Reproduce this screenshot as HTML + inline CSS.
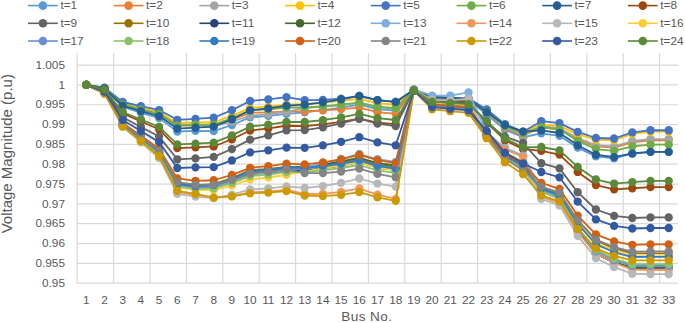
<!DOCTYPE html><html><head><meta charset="utf-8"><title>chart</title><style>html,body{margin:0;padding:0;background:#fff}svg{display:block}text{font-family:"Liberation Sans", sans-serif;fill:#595959}</style></head><body>
<svg width="685" height="323" viewBox="0 0 685 323">
<rect width="685" height="323" fill="#fff"/>
<path d="M77.2 283.20H678.0M77.2 263.37H678.0M77.2 243.54H678.0M77.2 223.71H678.0M77.2 203.88H678.0M77.2 184.05H678.0M77.2 164.22H678.0M77.2 144.39H678.0M77.2 124.56H678.0M77.2 104.73H678.0M77.2 84.90H678.0M77.2 65.07H678.0M77.20 53V283.20M113.60 53V283.20M150.00 53V283.20M186.40 53V283.20M222.80 53V283.20M259.20 53V283.20M295.60 53V283.20M332.00 53V283.20M368.40 53V283.20M404.80 53V283.20M441.20 53V283.20M477.60 53V283.20M514.00 53V283.20M550.40 53V283.20M586.80 53V283.20M623.20 53V283.20M659.60 53V283.20" stroke="#D9D9D9" stroke-width="1.2" fill="none"/>
<text x="65" y="286.90" font-size="11.8" text-anchor="end">0.95</text>
<text x="65" y="267.07" font-size="11.8" text-anchor="end">0.955</text>
<text x="65" y="247.24" font-size="11.8" text-anchor="end">0.96</text>
<text x="65" y="227.41" font-size="11.8" text-anchor="end">0.965</text>
<text x="65" y="207.58" font-size="11.8" text-anchor="end">0.97</text>
<text x="65" y="187.75" font-size="11.8" text-anchor="end">0.975</text>
<text x="65" y="167.92" font-size="11.8" text-anchor="end">0.98</text>
<text x="65" y="148.09" font-size="11.8" text-anchor="end">0.985</text>
<text x="65" y="128.26" font-size="11.8" text-anchor="end">0.99</text>
<text x="65" y="108.43" font-size="11.8" text-anchor="end">0.995</text>
<text x="65" y="88.60" font-size="11.8" text-anchor="end">1</text>
<text x="65" y="68.77" font-size="11.8" text-anchor="end">1.005</text>
<text x="86.30" y="303.9" font-size="11.8" text-anchor="middle">1</text>
<text x="104.50" y="303.9" font-size="11.8" text-anchor="middle">2</text>
<text x="122.70" y="303.9" font-size="11.8" text-anchor="middle">3</text>
<text x="140.90" y="303.9" font-size="11.8" text-anchor="middle">4</text>
<text x="159.10" y="303.9" font-size="11.8" text-anchor="middle">5</text>
<text x="177.30" y="303.9" font-size="11.8" text-anchor="middle">6</text>
<text x="195.50" y="303.9" font-size="11.8" text-anchor="middle">7</text>
<text x="213.70" y="303.9" font-size="11.8" text-anchor="middle">8</text>
<text x="231.90" y="303.9" font-size="11.8" text-anchor="middle">9</text>
<text x="250.10" y="303.9" font-size="11.8" text-anchor="middle">10</text>
<text x="268.30" y="303.9" font-size="11.8" text-anchor="middle">11</text>
<text x="286.50" y="303.9" font-size="11.8" text-anchor="middle">12</text>
<text x="304.70" y="303.9" font-size="11.8" text-anchor="middle">13</text>
<text x="322.90" y="303.9" font-size="11.8" text-anchor="middle">14</text>
<text x="341.10" y="303.9" font-size="11.8" text-anchor="middle">15</text>
<text x="359.30" y="303.9" font-size="11.8" text-anchor="middle">16</text>
<text x="377.50" y="303.9" font-size="11.8" text-anchor="middle">17</text>
<text x="395.70" y="303.9" font-size="11.8" text-anchor="middle">18</text>
<text x="413.90" y="303.9" font-size="11.8" text-anchor="middle">19</text>
<text x="432.10" y="303.9" font-size="11.8" text-anchor="middle">20</text>
<text x="450.30" y="303.9" font-size="11.8" text-anchor="middle">21</text>
<text x="468.50" y="303.9" font-size="11.8" text-anchor="middle">22</text>
<text x="486.70" y="303.9" font-size="11.8" text-anchor="middle">23</text>
<text x="504.90" y="303.9" font-size="11.8" text-anchor="middle">24</text>
<text x="523.10" y="303.9" font-size="11.8" text-anchor="middle">25</text>
<text x="541.30" y="303.9" font-size="11.8" text-anchor="middle">26</text>
<text x="559.50" y="303.9" font-size="11.8" text-anchor="middle">27</text>
<text x="577.70" y="303.9" font-size="11.8" text-anchor="middle">28</text>
<text x="595.90" y="303.9" font-size="11.8" text-anchor="middle">29</text>
<text x="614.10" y="303.9" font-size="11.8" text-anchor="middle">30</text>
<text x="632.30" y="303.9" font-size="11.8" text-anchor="middle">31</text>
<text x="650.50" y="303.9" font-size="11.8" text-anchor="middle">32</text>
<text x="668.70" y="303.9" font-size="11.8" text-anchor="middle">33</text>
<text x="341.3" y="320.8" font-size="13.6" letter-spacing="0.4">Bus No.</text>
<text transform="translate(12.4,153.7) rotate(-90)" font-size="15" text-anchor="middle">Voltage Magnitude (p.u)</text>
<g fill="#5B9BD5" stroke="#5B9BD5"><path d="M86.30 84.90L104.50 88.63L122.70 106.97L140.90 112.71L159.10 118.10L177.30 131.50L195.50 130.92L213.70 131.13L231.90 124.99L250.10 117.30L268.30 115.91L286.50 113.85L304.70 112.33L322.90 110.12L341.10 107.59L359.30 104.73L377.50 109.16L395.70 110.68L413.90 89.92L432.10 98.01L450.30 99.07L468.50 99.97L486.70 114.54L504.90 129.68L523.10 137.25L541.30 133.37L559.50 135.85L577.70 147.62L595.90 156.38L614.10 158.27L632.30 153.73L650.50 151.93L668.70 151.93" fill="none" stroke-width="1.8" stroke-linejoin="round" stroke-linecap="round"/>
<circle cx="86.30" cy="84.90" r="4.15" stroke="none"/><circle cx="104.50" cy="88.63" r="4.15" stroke="none"/><circle cx="122.70" cy="106.97" r="4.15" stroke="none"/><circle cx="140.90" cy="112.71" r="4.15" stroke="none"/><circle cx="159.10" cy="118.10" r="4.15" stroke="none"/><circle cx="177.30" cy="131.50" r="4.15" stroke="none"/><circle cx="195.50" cy="130.92" r="4.15" stroke="none"/><circle cx="213.70" cy="131.13" r="4.15" stroke="none"/><circle cx="231.90" cy="124.99" r="4.15" stroke="none"/><circle cx="250.10" cy="117.30" r="4.15" stroke="none"/><circle cx="268.30" cy="115.91" r="4.15" stroke="none"/><circle cx="286.50" cy="113.85" r="4.15" stroke="none"/><circle cx="304.70" cy="112.33" r="4.15" stroke="none"/><circle cx="322.90" cy="110.12" r="4.15" stroke="none"/><circle cx="341.10" cy="107.59" r="4.15" stroke="none"/><circle cx="359.30" cy="104.73" r="4.15" stroke="none"/><circle cx="377.50" cy="109.16" r="4.15" stroke="none"/><circle cx="395.70" cy="110.68" r="4.15" stroke="none"/><circle cx="413.90" cy="89.92" r="4.15" stroke="none"/><circle cx="432.10" cy="98.01" r="4.15" stroke="none"/><circle cx="450.30" cy="99.07" r="4.15" stroke="none"/><circle cx="468.50" cy="99.97" r="4.15" stroke="none"/><circle cx="486.70" cy="114.54" r="4.15" stroke="none"/><circle cx="504.90" cy="129.68" r="4.15" stroke="none"/><circle cx="523.10" cy="137.25" r="4.15" stroke="none"/><circle cx="541.30" cy="133.37" r="4.15" stroke="none"/><circle cx="559.50" cy="135.85" r="4.15" stroke="none"/><circle cx="577.70" cy="147.62" r="4.15" stroke="none"/><circle cx="595.90" cy="156.38" r="4.15" stroke="none"/><circle cx="614.10" cy="158.27" r="4.15" stroke="none"/><circle cx="632.30" cy="153.73" r="4.15" stroke="none"/><circle cx="650.50" cy="151.93" r="4.15" stroke="none"/><circle cx="668.70" cy="151.93" r="4.15" stroke="none"/>
</g>
<g fill="#ED7D31" stroke="#ED7D31"><path d="M86.30 84.90L104.50 88.17L122.70 104.57L140.90 109.54L159.10 114.15L177.30 125.75L195.50 125.23L213.70 125.79L231.90 120.00L250.10 112.66L268.30 112.40L286.50 111.47L304.70 111.26L322.90 110.36L341.10 109.14L359.30 107.59L377.50 112.17L395.70 113.85L413.90 89.89L432.10 97.67L450.30 98.69L468.50 99.57L486.70 112.35L504.90 127.89L523.10 135.66L541.30 127.30L559.50 129.36L577.70 139.15L595.90 146.38L614.10 147.56L632.30 142.32L650.50 140.42L668.70 140.42" fill="none" stroke-width="1.8" stroke-linejoin="round" stroke-linecap="round"/>
<circle cx="86.30" cy="84.90" r="4.15" stroke="none"/><circle cx="104.50" cy="88.17" r="4.15" stroke="none"/><circle cx="122.70" cy="104.57" r="4.15" stroke="none"/><circle cx="140.90" cy="109.54" r="4.15" stroke="none"/><circle cx="159.10" cy="114.15" r="4.15" stroke="none"/><circle cx="177.30" cy="125.75" r="4.15" stroke="none"/><circle cx="195.50" cy="125.23" r="4.15" stroke="none"/><circle cx="213.70" cy="125.79" r="4.15" stroke="none"/><circle cx="231.90" cy="120.00" r="4.15" stroke="none"/><circle cx="250.10" cy="112.66" r="4.15" stroke="none"/><circle cx="268.30" cy="112.40" r="4.15" stroke="none"/><circle cx="286.50" cy="111.47" r="4.15" stroke="none"/><circle cx="304.70" cy="111.26" r="4.15" stroke="none"/><circle cx="322.90" cy="110.36" r="4.15" stroke="none"/><circle cx="341.10" cy="109.14" r="4.15" stroke="none"/><circle cx="359.30" cy="107.59" r="4.15" stroke="none"/><circle cx="377.50" cy="112.17" r="4.15" stroke="none"/><circle cx="395.70" cy="113.85" r="4.15" stroke="none"/><circle cx="413.90" cy="89.89" r="4.15" stroke="none"/><circle cx="432.10" cy="97.67" r="4.15" stroke="none"/><circle cx="450.30" cy="98.69" r="4.15" stroke="none"/><circle cx="468.50" cy="99.57" r="4.15" stroke="none"/><circle cx="486.70" cy="112.35" r="4.15" stroke="none"/><circle cx="504.90" cy="127.89" r="4.15" stroke="none"/><circle cx="523.10" cy="135.66" r="4.15" stroke="none"/><circle cx="541.30" cy="127.30" r="4.15" stroke="none"/><circle cx="559.50" cy="129.36" r="4.15" stroke="none"/><circle cx="577.70" cy="139.15" r="4.15" stroke="none"/><circle cx="595.90" cy="146.38" r="4.15" stroke="none"/><circle cx="614.10" cy="147.56" r="4.15" stroke="none"/><circle cx="632.30" cy="142.32" r="4.15" stroke="none"/><circle cx="650.50" cy="140.42" r="4.15" stroke="none"/><circle cx="668.70" cy="140.42" r="4.15" stroke="none"/>
</g>
<g fill="#A5A5A5" stroke="#A5A5A5"><path d="M86.30 84.90L104.50 88.07L122.70 104.07L140.90 108.88L159.10 113.33L177.30 124.56L195.50 124.30L213.70 126.20L231.90 121.75L250.10 115.76L268.30 114.15L286.50 111.87L304.70 107.89L322.90 106.74L341.10 105.11L359.30 102.98L377.50 107.17L395.70 108.58L413.90 89.87L432.10 97.32L450.30 98.32L468.50 99.18L486.70 111.77L504.90 127.17L523.10 134.87L541.30 126.14L559.50 128.24L577.70 138.16L595.90 145.39L614.10 146.49L632.30 141.01L650.50 139.04L668.70 139.04" fill="none" stroke-width="1.8" stroke-linejoin="round" stroke-linecap="round"/>
<circle cx="86.30" cy="84.90" r="4.15" stroke="none"/><circle cx="104.50" cy="88.07" r="4.15" stroke="none"/><circle cx="122.70" cy="104.07" r="4.15" stroke="none"/><circle cx="140.90" cy="108.88" r="4.15" stroke="none"/><circle cx="159.10" cy="113.33" r="4.15" stroke="none"/><circle cx="177.30" cy="124.56" r="4.15" stroke="none"/><circle cx="195.50" cy="124.30" r="4.15" stroke="none"/><circle cx="213.70" cy="126.20" r="4.15" stroke="none"/><circle cx="231.90" cy="121.75" r="4.15" stroke="none"/><circle cx="250.10" cy="115.76" r="4.15" stroke="none"/><circle cx="268.30" cy="114.15" r="4.15" stroke="none"/><circle cx="286.50" cy="111.87" r="4.15" stroke="none"/><circle cx="304.70" cy="107.89" r="4.15" stroke="none"/><circle cx="322.90" cy="106.74" r="4.15" stroke="none"/><circle cx="341.10" cy="105.11" r="4.15" stroke="none"/><circle cx="359.30" cy="102.98" r="4.15" stroke="none"/><circle cx="377.50" cy="107.17" r="4.15" stroke="none"/><circle cx="395.70" cy="108.58" r="4.15" stroke="none"/><circle cx="413.90" cy="89.87" r="4.15" stroke="none"/><circle cx="432.10" cy="97.32" r="4.15" stroke="none"/><circle cx="450.30" cy="98.32" r="4.15" stroke="none"/><circle cx="468.50" cy="99.18" r="4.15" stroke="none"/><circle cx="486.70" cy="111.77" r="4.15" stroke="none"/><circle cx="504.90" cy="127.17" r="4.15" stroke="none"/><circle cx="523.10" cy="134.87" r="4.15" stroke="none"/><circle cx="541.30" cy="126.14" r="4.15" stroke="none"/><circle cx="559.50" cy="128.24" r="4.15" stroke="none"/><circle cx="577.70" cy="138.16" r="4.15" stroke="none"/><circle cx="595.90" cy="145.39" r="4.15" stroke="none"/><circle cx="614.10" cy="146.49" r="4.15" stroke="none"/><circle cx="632.30" cy="141.01" r="4.15" stroke="none"/><circle cx="650.50" cy="139.04" r="4.15" stroke="none"/><circle cx="668.70" cy="139.04" r="4.15" stroke="none"/>
</g>
<g fill="#FFC000" stroke="#FFC000"><path d="M86.30 84.90L104.50 87.95L122.70 103.39L140.90 107.99L159.10 112.23L177.30 122.97L195.50 122.34L213.70 122.27L231.90 115.86L250.10 107.90L268.30 106.65L286.50 104.73L304.70 104.00L322.90 102.59L341.10 100.85L359.30 98.78L377.50 103.21L395.70 104.73L413.90 89.84L432.10 96.98L450.30 97.95L468.50 98.78L486.70 110.66L504.90 125.22L523.10 132.49L541.30 124.30L559.50 126.07L577.70 134.18L595.90 139.76L614.10 140.03L632.30 133.78L650.50 131.70L668.70 131.70" fill="none" stroke-width="1.8" stroke-linejoin="round" stroke-linecap="round"/>
<circle cx="86.30" cy="84.90" r="4.15" stroke="none"/><circle cx="104.50" cy="87.95" r="4.15" stroke="none"/><circle cx="122.70" cy="103.39" r="4.15" stroke="none"/><circle cx="140.90" cy="107.99" r="4.15" stroke="none"/><circle cx="159.10" cy="112.23" r="4.15" stroke="none"/><circle cx="177.30" cy="122.97" r="4.15" stroke="none"/><circle cx="195.50" cy="122.34" r="4.15" stroke="none"/><circle cx="213.70" cy="122.27" r="4.15" stroke="none"/><circle cx="231.90" cy="115.86" r="4.15" stroke="none"/><circle cx="250.10" cy="107.90" r="4.15" stroke="none"/><circle cx="268.30" cy="106.65" r="4.15" stroke="none"/><circle cx="286.50" cy="104.73" r="4.15" stroke="none"/><circle cx="304.70" cy="104.00" r="4.15" stroke="none"/><circle cx="322.90" cy="102.59" r="4.15" stroke="none"/><circle cx="341.10" cy="100.85" r="4.15" stroke="none"/><circle cx="359.30" cy="98.78" r="4.15" stroke="none"/><circle cx="377.50" cy="103.21" r="4.15" stroke="none"/><circle cx="395.70" cy="104.73" r="4.15" stroke="none"/><circle cx="413.90" cy="89.84" r="4.15" stroke="none"/><circle cx="432.10" cy="96.98" r="4.15" stroke="none"/><circle cx="450.30" cy="97.95" r="4.15" stroke="none"/><circle cx="468.50" cy="98.78" r="4.15" stroke="none"/><circle cx="486.70" cy="110.66" r="4.15" stroke="none"/><circle cx="504.90" cy="125.22" r="4.15" stroke="none"/><circle cx="523.10" cy="132.49" r="4.15" stroke="none"/><circle cx="541.30" cy="124.30" r="4.15" stroke="none"/><circle cx="559.50" cy="126.07" r="4.15" stroke="none"/><circle cx="577.70" cy="134.18" r="4.15" stroke="none"/><circle cx="595.90" cy="139.76" r="4.15" stroke="none"/><circle cx="614.10" cy="140.03" r="4.15" stroke="none"/><circle cx="632.30" cy="133.78" r="4.15" stroke="none"/><circle cx="650.50" cy="131.70" r="4.15" stroke="none"/><circle cx="668.70" cy="131.70" r="4.15" stroke="none"/>
</g>
<g fill="#4472C4" stroke="#4472C4"><path d="M86.30 84.90L104.50 87.69L122.70 102.00L140.90 106.19L159.10 110.03L177.30 119.80L195.50 118.94L213.70 117.71L231.90 110.13L250.10 101.00L268.30 99.44L286.50 97.19L304.70 100.16L322.90 99.99L341.10 98.61L359.30 96.00L377.50 100.07L395.70 101.95L413.90 89.81L432.10 96.63L450.30 97.58L468.50 98.38L486.70 109.43L504.90 124.27L523.10 131.70L541.30 121.21L559.50 123.10L577.70 131.84L595.90 138.00L614.10 138.52L632.30 132.33L650.50 130.23L668.70 130.23" fill="none" stroke-width="1.8" stroke-linejoin="round" stroke-linecap="round"/>
<circle cx="86.30" cy="84.90" r="4.15" stroke="none"/><circle cx="104.50" cy="87.69" r="4.15" stroke="none"/><circle cx="122.70" cy="102.00" r="4.15" stroke="none"/><circle cx="140.90" cy="106.19" r="4.15" stroke="none"/><circle cx="159.10" cy="110.03" r="4.15" stroke="none"/><circle cx="177.30" cy="119.80" r="4.15" stroke="none"/><circle cx="195.50" cy="118.94" r="4.15" stroke="none"/><circle cx="213.70" cy="117.71" r="4.15" stroke="none"/><circle cx="231.90" cy="110.13" r="4.15" stroke="none"/><circle cx="250.10" cy="101.00" r="4.15" stroke="none"/><circle cx="268.30" cy="99.44" r="4.15" stroke="none"/><circle cx="286.50" cy="97.19" r="4.15" stroke="none"/><circle cx="304.70" cy="100.16" r="4.15" stroke="none"/><circle cx="322.90" cy="99.99" r="4.15" stroke="none"/><circle cx="341.10" cy="98.61" r="4.15" stroke="none"/><circle cx="359.30" cy="96.00" r="4.15" stroke="none"/><circle cx="377.50" cy="100.07" r="4.15" stroke="none"/><circle cx="395.70" cy="101.95" r="4.15" stroke="none"/><circle cx="413.90" cy="89.81" r="4.15" stroke="none"/><circle cx="432.10" cy="96.63" r="4.15" stroke="none"/><circle cx="450.30" cy="97.58" r="4.15" stroke="none"/><circle cx="468.50" cy="98.38" r="4.15" stroke="none"/><circle cx="486.70" cy="109.43" r="4.15" stroke="none"/><circle cx="504.90" cy="124.27" r="4.15" stroke="none"/><circle cx="523.10" cy="131.70" r="4.15" stroke="none"/><circle cx="541.30" cy="121.21" r="4.15" stroke="none"/><circle cx="559.50" cy="123.10" r="4.15" stroke="none"/><circle cx="577.70" cy="131.84" r="4.15" stroke="none"/><circle cx="595.90" cy="138.00" r="4.15" stroke="none"/><circle cx="614.10" cy="138.52" r="4.15" stroke="none"/><circle cx="632.30" cy="132.33" r="4.15" stroke="none"/><circle cx="650.50" cy="130.23" r="4.15" stroke="none"/><circle cx="668.70" cy="130.23" r="4.15" stroke="none"/>
</g>
<g fill="#70AD47" stroke="#70AD47"><path d="M86.30 84.90L104.50 88.14L122.70 104.41L140.90 109.32L159.10 113.88L177.30 125.35L195.50 124.72L213.70 124.65L231.90 118.24L250.10 110.28L268.30 109.23L286.50 107.51L304.70 107.49L322.90 106.34L341.10 104.71L359.30 102.59L377.50 106.77L395.70 108.18L413.90 89.87L432.10 97.32L450.30 98.32L468.50 99.18L486.70 111.63L504.90 126.07L523.10 133.29L541.30 127.11L559.50 129.45L577.70 140.64L595.90 149.06L614.10 150.89L632.30 146.46L650.50 144.71L668.70 144.71" fill="none" stroke-width="1.8" stroke-linejoin="round" stroke-linecap="round"/>
<circle cx="86.30" cy="84.90" r="4.15" stroke="none"/><circle cx="104.50" cy="88.14" r="4.15" stroke="none"/><circle cx="122.70" cy="104.41" r="4.15" stroke="none"/><circle cx="140.90" cy="109.32" r="4.15" stroke="none"/><circle cx="159.10" cy="113.88" r="4.15" stroke="none"/><circle cx="177.30" cy="125.35" r="4.15" stroke="none"/><circle cx="195.50" cy="124.72" r="4.15" stroke="none"/><circle cx="213.70" cy="124.65" r="4.15" stroke="none"/><circle cx="231.90" cy="118.24" r="4.15" stroke="none"/><circle cx="250.10" cy="110.28" r="4.15" stroke="none"/><circle cx="268.30" cy="109.23" r="4.15" stroke="none"/><circle cx="286.50" cy="107.51" r="4.15" stroke="none"/><circle cx="304.70" cy="107.49" r="4.15" stroke="none"/><circle cx="322.90" cy="106.34" r="4.15" stroke="none"/><circle cx="341.10" cy="104.71" r="4.15" stroke="none"/><circle cx="359.30" cy="102.59" r="4.15" stroke="none"/><circle cx="377.50" cy="106.77" r="4.15" stroke="none"/><circle cx="395.70" cy="108.18" r="4.15" stroke="none"/><circle cx="413.90" cy="89.87" r="4.15" stroke="none"/><circle cx="432.10" cy="97.32" r="4.15" stroke="none"/><circle cx="450.30" cy="98.32" r="4.15" stroke="none"/><circle cx="468.50" cy="99.18" r="4.15" stroke="none"/><circle cx="486.70" cy="111.63" r="4.15" stroke="none"/><circle cx="504.90" cy="126.07" r="4.15" stroke="none"/><circle cx="523.10" cy="133.29" r="4.15" stroke="none"/><circle cx="541.30" cy="127.11" r="4.15" stroke="none"/><circle cx="559.50" cy="129.45" r="4.15" stroke="none"/><circle cx="577.70" cy="140.64" r="4.15" stroke="none"/><circle cx="595.90" cy="149.06" r="4.15" stroke="none"/><circle cx="614.10" cy="150.89" r="4.15" stroke="none"/><circle cx="632.30" cy="146.46" r="4.15" stroke="none"/><circle cx="650.50" cy="144.71" r="4.15" stroke="none"/><circle cx="668.70" cy="144.71" r="4.15" stroke="none"/>
</g>
<g fill="#255E91" stroke="#255E91"><path d="M86.30 84.90L104.50 88.39L122.70 105.74L140.90 111.08L159.10 116.06L177.30 128.53L195.50 127.70L213.70 126.64L231.90 119.24L250.10 110.28L268.30 108.32L286.50 105.68L304.70 104.65L322.90 102.27L341.10 99.32L359.30 95.81L377.50 100.24L395.70 101.95L413.90 89.85L432.10 97.18L450.30 98.17L468.50 99.02L486.70 112.20L504.90 125.12L523.10 131.58L541.30 130.45L559.50 133.00L577.70 145.32L595.90 154.70L614.10 157.08L632.30 153.41L650.50 151.81L668.70 151.81" fill="none" stroke-width="1.8" stroke-linejoin="round" stroke-linecap="round"/>
<circle cx="86.30" cy="84.90" r="4.15" stroke="none"/><circle cx="104.50" cy="88.39" r="4.15" stroke="none"/><circle cx="122.70" cy="105.74" r="4.15" stroke="none"/><circle cx="140.90" cy="111.08" r="4.15" stroke="none"/><circle cx="159.10" cy="116.06" r="4.15" stroke="none"/><circle cx="177.30" cy="128.53" r="4.15" stroke="none"/><circle cx="195.50" cy="127.70" r="4.15" stroke="none"/><circle cx="213.70" cy="126.64" r="4.15" stroke="none"/><circle cx="231.90" cy="119.24" r="4.15" stroke="none"/><circle cx="250.10" cy="110.28" r="4.15" stroke="none"/><circle cx="268.30" cy="108.32" r="4.15" stroke="none"/><circle cx="286.50" cy="105.68" r="4.15" stroke="none"/><circle cx="304.70" cy="104.65" r="4.15" stroke="none"/><circle cx="322.90" cy="102.27" r="4.15" stroke="none"/><circle cx="341.10" cy="99.32" r="4.15" stroke="none"/><circle cx="359.30" cy="95.81" r="4.15" stroke="none"/><circle cx="377.50" cy="100.24" r="4.15" stroke="none"/><circle cx="395.70" cy="101.95" r="4.15" stroke="none"/><circle cx="413.90" cy="89.85" r="4.15" stroke="none"/><circle cx="432.10" cy="97.18" r="4.15" stroke="none"/><circle cx="450.30" cy="98.17" r="4.15" stroke="none"/><circle cx="468.50" cy="99.02" r="4.15" stroke="none"/><circle cx="486.70" cy="112.20" r="4.15" stroke="none"/><circle cx="504.90" cy="125.12" r="4.15" stroke="none"/><circle cx="523.10" cy="131.58" r="4.15" stroke="none"/><circle cx="541.30" cy="130.45" r="4.15" stroke="none"/><circle cx="559.50" cy="133.00" r="4.15" stroke="none"/><circle cx="577.70" cy="145.32" r="4.15" stroke="none"/><circle cx="595.90" cy="154.70" r="4.15" stroke="none"/><circle cx="614.10" cy="157.08" r="4.15" stroke="none"/><circle cx="632.30" cy="153.41" r="4.15" stroke="none"/><circle cx="650.50" cy="151.81" r="4.15" stroke="none"/><circle cx="668.70" cy="151.81" r="4.15" stroke="none"/>
</g>
<g fill="#9E480E" stroke="#9E480E"><path d="M86.30 84.90L104.50 89.96L122.70 113.36L140.90 121.45L159.10 129.26L177.30 148.12L195.50 147.33L213.70 146.47L231.90 139.26L250.10 130.51L268.30 128.47L286.50 125.75L304.70 126.09L322.90 124.41L341.10 121.92L359.30 118.61L377.50 122.65L395.70 124.16L413.90 90.03L432.10 99.39L450.30 100.56L468.50 101.56L486.70 122.30L504.90 140.20L523.10 149.15L541.30 150.89L559.50 154.54L577.70 171.95L595.90 185.09L614.10 189.36L632.30 188.23L650.50 187.06L668.70 187.06" fill="none" stroke-width="1.8" stroke-linejoin="round" stroke-linecap="round"/>
<circle cx="86.30" cy="84.90" r="4.15" stroke="none"/><circle cx="104.50" cy="89.96" r="4.15" stroke="none"/><circle cx="122.70" cy="113.36" r="4.15" stroke="none"/><circle cx="140.90" cy="121.45" r="4.15" stroke="none"/><circle cx="159.10" cy="129.26" r="4.15" stroke="none"/><circle cx="177.30" cy="148.12" r="4.15" stroke="none"/><circle cx="195.50" cy="147.33" r="4.15" stroke="none"/><circle cx="213.70" cy="146.47" r="4.15" stroke="none"/><circle cx="231.90" cy="139.26" r="4.15" stroke="none"/><circle cx="250.10" cy="130.51" r="4.15" stroke="none"/><circle cx="268.30" cy="128.47" r="4.15" stroke="none"/><circle cx="286.50" cy="125.75" r="4.15" stroke="none"/><circle cx="304.70" cy="126.09" r="4.15" stroke="none"/><circle cx="322.90" cy="124.41" r="4.15" stroke="none"/><circle cx="341.10" cy="121.92" r="4.15" stroke="none"/><circle cx="359.30" cy="118.61" r="4.15" stroke="none"/><circle cx="377.50" cy="122.65" r="4.15" stroke="none"/><circle cx="395.70" cy="124.16" r="4.15" stroke="none"/><circle cx="413.90" cy="90.03" r="4.15" stroke="none"/><circle cx="432.10" cy="99.39" r="4.15" stroke="none"/><circle cx="450.30" cy="100.56" r="4.15" stroke="none"/><circle cx="468.50" cy="101.56" r="4.15" stroke="none"/><circle cx="486.70" cy="122.30" r="4.15" stroke="none"/><circle cx="504.90" cy="140.20" r="4.15" stroke="none"/><circle cx="523.10" cy="149.15" r="4.15" stroke="none"/><circle cx="541.30" cy="150.89" r="4.15" stroke="none"/><circle cx="559.50" cy="154.54" r="4.15" stroke="none"/><circle cx="577.70" cy="171.95" r="4.15" stroke="none"/><circle cx="595.90" cy="185.09" r="4.15" stroke="none"/><circle cx="614.10" cy="189.36" r="4.15" stroke="none"/><circle cx="632.30" cy="188.23" r="4.15" stroke="none"/><circle cx="650.50" cy="187.06" r="4.15" stroke="none"/><circle cx="668.70" cy="187.06" r="4.15" stroke="none"/>
</g>
<g fill="#636363" stroke="#636363"><path d="M86.30 84.90L104.50 90.85L122.70 117.22L140.90 126.97L159.10 136.57L177.30 159.30L195.50 158.39L213.70 156.88L231.90 149.03L250.10 139.63L268.30 135.37L286.50 130.43L304.70 130.08L322.90 127.27L341.10 123.49L359.30 118.73L377.50 123.59L395.70 126.07L413.90 90.12L432.10 100.43L450.30 101.68L468.50 102.75L486.70 123.67L504.90 136.59L523.10 143.04L541.30 163.23L559.50 168.39L577.70 192.22L595.90 209.50L614.10 215.82L632.30 217.98L650.50 217.40L668.70 217.40" fill="none" stroke-width="1.8" stroke-linejoin="round" stroke-linecap="round"/>
<circle cx="86.30" cy="84.90" r="4.15" stroke="none"/><circle cx="104.50" cy="90.85" r="4.15" stroke="none"/><circle cx="122.70" cy="117.22" r="4.15" stroke="none"/><circle cx="140.90" cy="126.97" r="4.15" stroke="none"/><circle cx="159.10" cy="136.57" r="4.15" stroke="none"/><circle cx="177.30" cy="159.30" r="4.15" stroke="none"/><circle cx="195.50" cy="158.39" r="4.15" stroke="none"/><circle cx="213.70" cy="156.88" r="4.15" stroke="none"/><circle cx="231.90" cy="149.03" r="4.15" stroke="none"/><circle cx="250.10" cy="139.63" r="4.15" stroke="none"/><circle cx="268.30" cy="135.37" r="4.15" stroke="none"/><circle cx="286.50" cy="130.43" r="4.15" stroke="none"/><circle cx="304.70" cy="130.08" r="4.15" stroke="none"/><circle cx="322.90" cy="127.27" r="4.15" stroke="none"/><circle cx="341.10" cy="123.49" r="4.15" stroke="none"/><circle cx="359.30" cy="118.73" r="4.15" stroke="none"/><circle cx="377.50" cy="123.59" r="4.15" stroke="none"/><circle cx="395.70" cy="126.07" r="4.15" stroke="none"/><circle cx="413.90" cy="90.12" r="4.15" stroke="none"/><circle cx="432.10" cy="100.43" r="4.15" stroke="none"/><circle cx="450.30" cy="101.68" r="4.15" stroke="none"/><circle cx="468.50" cy="102.75" r="4.15" stroke="none"/><circle cx="486.70" cy="123.67" r="4.15" stroke="none"/><circle cx="504.90" cy="136.59" r="4.15" stroke="none"/><circle cx="523.10" cy="143.04" r="4.15" stroke="none"/><circle cx="541.30" cy="163.23" r="4.15" stroke="none"/><circle cx="559.50" cy="168.39" r="4.15" stroke="none"/><circle cx="577.70" cy="192.22" r="4.15" stroke="none"/><circle cx="595.90" cy="209.50" r="4.15" stroke="none"/><circle cx="614.10" cy="215.82" r="4.15" stroke="none"/><circle cx="632.30" cy="217.98" r="4.15" stroke="none"/><circle cx="650.50" cy="217.40" r="4.15" stroke="none"/><circle cx="668.70" cy="217.40" r="4.15" stroke="none"/>
</g>
<g fill="#997300" stroke="#997300"><path d="M86.30 84.90L104.50 92.77L122.70 124.30L140.90 137.86L159.10 151.67L177.30 183.26L195.50 185.49L213.70 184.17L231.90 178.08L250.10 170.17L268.30 168.98L286.50 167.00L304.70 166.75L322.90 164.97L341.10 162.54L359.30 159.46L377.50 164.55L395.70 167.00L413.90 90.39L432.10 103.88L450.30 105.40L468.50 106.71L486.70 133.79L504.90 152.75L523.10 162.24L541.30 187.75L559.50 193.62L577.70 220.76L595.90 240.46L614.10 248.30L632.30 253.40L650.50 253.45L668.70 253.45" fill="none" stroke-width="1.8" stroke-linejoin="round" stroke-linecap="round"/>
<circle cx="86.30" cy="84.90" r="4.15" stroke="none"/><circle cx="104.50" cy="92.77" r="4.15" stroke="none"/><circle cx="122.70" cy="124.30" r="4.15" stroke="none"/><circle cx="140.90" cy="137.86" r="4.15" stroke="none"/><circle cx="159.10" cy="151.67" r="4.15" stroke="none"/><circle cx="177.30" cy="183.26" r="4.15" stroke="none"/><circle cx="195.50" cy="185.49" r="4.15" stroke="none"/><circle cx="213.70" cy="184.17" r="4.15" stroke="none"/><circle cx="231.90" cy="178.08" r="4.15" stroke="none"/><circle cx="250.10" cy="170.17" r="4.15" stroke="none"/><circle cx="268.30" cy="168.98" r="4.15" stroke="none"/><circle cx="286.50" cy="167.00" r="4.15" stroke="none"/><circle cx="304.70" cy="166.75" r="4.15" stroke="none"/><circle cx="322.90" cy="164.97" r="4.15" stroke="none"/><circle cx="341.10" cy="162.54" r="4.15" stroke="none"/><circle cx="359.30" cy="159.46" r="4.15" stroke="none"/><circle cx="377.50" cy="164.55" r="4.15" stroke="none"/><circle cx="395.70" cy="167.00" r="4.15" stroke="none"/><circle cx="413.90" cy="90.39" r="4.15" stroke="none"/><circle cx="432.10" cy="103.88" r="4.15" stroke="none"/><circle cx="450.30" cy="105.40" r="4.15" stroke="none"/><circle cx="468.50" cy="106.71" r="4.15" stroke="none"/><circle cx="486.70" cy="133.79" r="4.15" stroke="none"/><circle cx="504.90" cy="152.75" r="4.15" stroke="none"/><circle cx="523.10" cy="162.24" r="4.15" stroke="none"/><circle cx="541.30" cy="187.75" r="4.15" stroke="none"/><circle cx="559.50" cy="193.62" r="4.15" stroke="none"/><circle cx="577.70" cy="220.76" r="4.15" stroke="none"/><circle cx="595.90" cy="240.46" r="4.15" stroke="none"/><circle cx="614.10" cy="248.30" r="4.15" stroke="none"/><circle cx="632.30" cy="253.40" r="4.15" stroke="none"/><circle cx="650.50" cy="253.45" r="4.15" stroke="none"/><circle cx="668.70" cy="253.45" r="4.15" stroke="none"/>
</g>
<g fill="#264478" stroke="#264478"><path d="M86.30 84.90L104.50 92.99L122.70 125.02L140.90 139.04L159.10 153.38L177.30 186.03L195.50 188.34L213.70 187.39L231.90 181.67L250.10 174.13L268.30 172.95L286.50 170.96L304.70 170.42L322.90 168.34L341.10 165.62L359.30 162.24L377.50 167.53L395.70 170.17L413.90 90.48L432.10 104.91L450.30 106.52L468.50 107.90L486.70 135.61L504.90 156.80L523.10 167.39L541.30 191.43L559.50 198.48L577.70 230.73L595.90 253.71L614.10 262.58L632.30 267.86L650.50 267.73L668.70 267.73" fill="none" stroke-width="1.8" stroke-linejoin="round" stroke-linecap="round"/>
<circle cx="86.30" cy="84.90" r="4.15" stroke="none"/><circle cx="104.50" cy="92.99" r="4.15" stroke="none"/><circle cx="122.70" cy="125.02" r="4.15" stroke="none"/><circle cx="140.90" cy="139.04" r="4.15" stroke="none"/><circle cx="159.10" cy="153.38" r="4.15" stroke="none"/><circle cx="177.30" cy="186.03" r="4.15" stroke="none"/><circle cx="195.50" cy="188.34" r="4.15" stroke="none"/><circle cx="213.70" cy="187.39" r="4.15" stroke="none"/><circle cx="231.90" cy="181.67" r="4.15" stroke="none"/><circle cx="250.10" cy="174.13" r="4.15" stroke="none"/><circle cx="268.30" cy="172.95" r="4.15" stroke="none"/><circle cx="286.50" cy="170.96" r="4.15" stroke="none"/><circle cx="304.70" cy="170.42" r="4.15" stroke="none"/><circle cx="322.90" cy="168.34" r="4.15" stroke="none"/><circle cx="341.10" cy="165.62" r="4.15" stroke="none"/><circle cx="359.30" cy="162.24" r="4.15" stroke="none"/><circle cx="377.50" cy="167.53" r="4.15" stroke="none"/><circle cx="395.70" cy="170.17" r="4.15" stroke="none"/><circle cx="413.90" cy="90.48" r="4.15" stroke="none"/><circle cx="432.10" cy="104.91" r="4.15" stroke="none"/><circle cx="450.30" cy="106.52" r="4.15" stroke="none"/><circle cx="468.50" cy="107.90" r="4.15" stroke="none"/><circle cx="486.70" cy="135.61" r="4.15" stroke="none"/><circle cx="504.90" cy="156.80" r="4.15" stroke="none"/><circle cx="523.10" cy="167.39" r="4.15" stroke="none"/><circle cx="541.30" cy="191.43" r="4.15" stroke="none"/><circle cx="559.50" cy="198.48" r="4.15" stroke="none"/><circle cx="577.70" cy="230.73" r="4.15" stroke="none"/><circle cx="595.90" cy="253.71" r="4.15" stroke="none"/><circle cx="614.10" cy="262.58" r="4.15" stroke="none"/><circle cx="632.30" cy="267.86" r="4.15" stroke="none"/><circle cx="650.50" cy="267.73" r="4.15" stroke="none"/><circle cx="668.70" cy="267.73" r="4.15" stroke="none"/>
</g>
<g fill="#43682B" stroke="#43682B"><path d="M86.30 84.90L104.50 92.93L122.70 124.82L140.90 138.71L159.10 152.89L177.30 185.24L195.50 187.48L213.70 186.15L231.90 180.06L250.10 172.15L268.30 170.57L286.50 168.19L304.70 166.79L322.90 164.31L341.10 161.34L359.30 157.87L377.50 163.03L395.70 165.41L413.90 90.53L432.10 105.60L450.30 107.27L468.50 108.70L486.70 134.67L504.90 154.37L523.10 164.22L541.30 190.73L559.50 197.90L577.70 230.58L595.90 253.75L614.10 262.58L632.30 267.57L650.50 267.34L668.70 267.34" fill="none" stroke-width="1.8" stroke-linejoin="round" stroke-linecap="round"/>
<circle cx="86.30" cy="84.90" r="4.15" stroke="none"/><circle cx="104.50" cy="92.93" r="4.15" stroke="none"/><circle cx="122.70" cy="124.82" r="4.15" stroke="none"/><circle cx="140.90" cy="138.71" r="4.15" stroke="none"/><circle cx="159.10" cy="152.89" r="4.15" stroke="none"/><circle cx="177.30" cy="185.24" r="4.15" stroke="none"/><circle cx="195.50" cy="187.48" r="4.15" stroke="none"/><circle cx="213.70" cy="186.15" r="4.15" stroke="none"/><circle cx="231.90" cy="180.06" r="4.15" stroke="none"/><circle cx="250.10" cy="172.15" r="4.15" stroke="none"/><circle cx="268.30" cy="170.57" r="4.15" stroke="none"/><circle cx="286.50" cy="168.19" r="4.15" stroke="none"/><circle cx="304.70" cy="166.79" r="4.15" stroke="none"/><circle cx="322.90" cy="164.31" r="4.15" stroke="none"/><circle cx="341.10" cy="161.34" r="4.15" stroke="none"/><circle cx="359.30" cy="157.87" r="4.15" stroke="none"/><circle cx="377.50" cy="163.03" r="4.15" stroke="none"/><circle cx="395.70" cy="165.41" r="4.15" stroke="none"/><circle cx="413.90" cy="90.53" r="4.15" stroke="none"/><circle cx="432.10" cy="105.60" r="4.15" stroke="none"/><circle cx="450.30" cy="107.27" r="4.15" stroke="none"/><circle cx="468.50" cy="108.70" r="4.15" stroke="none"/><circle cx="486.70" cy="134.67" r="4.15" stroke="none"/><circle cx="504.90" cy="154.37" r="4.15" stroke="none"/><circle cx="523.10" cy="164.22" r="4.15" stroke="none"/><circle cx="541.30" cy="190.73" r="4.15" stroke="none"/><circle cx="559.50" cy="197.90" r="4.15" stroke="none"/><circle cx="577.70" cy="230.58" r="4.15" stroke="none"/><circle cx="595.90" cy="253.75" r="4.15" stroke="none"/><circle cx="614.10" cy="262.58" r="4.15" stroke="none"/><circle cx="632.30" cy="267.57" r="4.15" stroke="none"/><circle cx="650.50" cy="267.34" r="4.15" stroke="none"/><circle cx="668.70" cy="267.34" r="4.15" stroke="none"/>
</g>
<g fill="#7CAFDD" stroke="#7CAFDD"><path d="M86.30 84.90L104.50 92.90L122.70 124.72L140.90 138.54L159.10 152.65L177.30 184.84L195.50 187.22L213.70 186.64L231.90 181.30L250.10 174.13L268.30 172.55L286.50 170.17L304.70 167.29L322.90 163.32L341.10 158.86L359.30 153.91L377.50 159.26L395.70 161.84L413.90 89.26L432.10 95.53L450.30 95.53L468.50 92.44L486.70 132.41L504.90 147.80L523.10 155.49L541.30 190.00L559.50 196.74L577.70 227.83L595.90 250.36L614.10 259.40L632.30 265.59L650.50 265.75L668.70 265.75" fill="none" stroke-width="1.8" stroke-linejoin="round" stroke-linecap="round"/>
<circle cx="86.30" cy="84.90" r="4.15" stroke="none"/><circle cx="104.50" cy="92.90" r="4.15" stroke="none"/><circle cx="122.70" cy="124.72" r="4.15" stroke="none"/><circle cx="140.90" cy="138.54" r="4.15" stroke="none"/><circle cx="159.10" cy="152.65" r="4.15" stroke="none"/><circle cx="177.30" cy="184.84" r="4.15" stroke="none"/><circle cx="195.50" cy="187.22" r="4.15" stroke="none"/><circle cx="213.70" cy="186.64" r="4.15" stroke="none"/><circle cx="231.90" cy="181.30" r="4.15" stroke="none"/><circle cx="250.10" cy="174.13" r="4.15" stroke="none"/><circle cx="268.30" cy="172.55" r="4.15" stroke="none"/><circle cx="286.50" cy="170.17" r="4.15" stroke="none"/><circle cx="304.70" cy="167.29" r="4.15" stroke="none"/><circle cx="322.90" cy="163.32" r="4.15" stroke="none"/><circle cx="341.10" cy="158.86" r="4.15" stroke="none"/><circle cx="359.30" cy="153.91" r="4.15" stroke="none"/><circle cx="377.50" cy="159.26" r="4.15" stroke="none"/><circle cx="395.70" cy="161.84" r="4.15" stroke="none"/><circle cx="413.90" cy="89.26" r="4.15" stroke="none"/><circle cx="432.10" cy="95.53" r="4.15" stroke="none"/><circle cx="450.30" cy="95.53" r="4.15" stroke="none"/><circle cx="468.50" cy="92.44" r="4.15" stroke="none"/><circle cx="486.70" cy="132.41" r="4.15" stroke="none"/><circle cx="504.90" cy="147.80" r="4.15" stroke="none"/><circle cx="523.10" cy="155.49" r="4.15" stroke="none"/><circle cx="541.30" cy="190.00" r="4.15" stroke="none"/><circle cx="559.50" cy="196.74" r="4.15" stroke="none"/><circle cx="577.70" cy="227.83" r="4.15" stroke="none"/><circle cx="595.90" cy="250.36" r="4.15" stroke="none"/><circle cx="614.10" cy="259.40" r="4.15" stroke="none"/><circle cx="632.30" cy="265.59" r="4.15" stroke="none"/><circle cx="650.50" cy="265.75" r="4.15" stroke="none"/><circle cx="668.70" cy="265.75" r="4.15" stroke="none"/>
</g>
<g fill="#F1975A" stroke="#F1975A"><path d="M86.30 84.90L104.50 93.47L122.70 126.48L140.90 141.51L159.10 156.99L177.30 191.98L195.50 195.03L213.70 197.92L231.90 196.06L250.10 192.38L268.30 191.59L286.50 190.00L304.70 193.99L322.90 193.79L341.10 191.95L359.30 188.49L377.50 194.64L395.70 198.92L413.90 90.31L432.10 102.84L450.30 104.29L468.50 105.52L486.70 134.06L504.90 149.22L523.10 156.80L541.30 196.78L559.50 203.06L577.70 232.27L595.90 253.78L614.10 262.74L632.30 269.58L650.50 269.99L668.70 269.99" fill="none" stroke-width="1.8" stroke-linejoin="round" stroke-linecap="round"/>
<circle cx="86.30" cy="84.90" r="4.15" stroke="none"/><circle cx="104.50" cy="93.47" r="4.15" stroke="none"/><circle cx="122.70" cy="126.48" r="4.15" stroke="none"/><circle cx="140.90" cy="141.51" r="4.15" stroke="none"/><circle cx="159.10" cy="156.99" r="4.15" stroke="none"/><circle cx="177.30" cy="191.98" r="4.15" stroke="none"/><circle cx="195.50" cy="195.03" r="4.15" stroke="none"/><circle cx="213.70" cy="197.92" r="4.15" stroke="none"/><circle cx="231.90" cy="196.06" r="4.15" stroke="none"/><circle cx="250.10" cy="192.38" r="4.15" stroke="none"/><circle cx="268.30" cy="191.59" r="4.15" stroke="none"/><circle cx="286.50" cy="190.00" r="4.15" stroke="none"/><circle cx="304.70" cy="193.99" r="4.15" stroke="none"/><circle cx="322.90" cy="193.79" r="4.15" stroke="none"/><circle cx="341.10" cy="191.95" r="4.15" stroke="none"/><circle cx="359.30" cy="188.49" r="4.15" stroke="none"/><circle cx="377.50" cy="194.64" r="4.15" stroke="none"/><circle cx="395.70" cy="198.92" r="4.15" stroke="none"/><circle cx="413.90" cy="90.31" r="4.15" stroke="none"/><circle cx="432.10" cy="102.84" r="4.15" stroke="none"/><circle cx="450.30" cy="104.29" r="4.15" stroke="none"/><circle cx="468.50" cy="105.52" r="4.15" stroke="none"/><circle cx="486.70" cy="134.06" r="4.15" stroke="none"/><circle cx="504.90" cy="149.22" r="4.15" stroke="none"/><circle cx="523.10" cy="156.80" r="4.15" stroke="none"/><circle cx="541.30" cy="196.78" r="4.15" stroke="none"/><circle cx="559.50" cy="203.06" r="4.15" stroke="none"/><circle cx="577.70" cy="232.27" r="4.15" stroke="none"/><circle cx="595.90" cy="253.78" r="4.15" stroke="none"/><circle cx="614.10" cy="262.74" r="4.15" stroke="none"/><circle cx="632.30" cy="269.58" r="4.15" stroke="none"/><circle cx="650.50" cy="269.99" r="4.15" stroke="none"/><circle cx="668.70" cy="269.99" r="4.15" stroke="none"/>
</g>
<g fill="#B7B7B7" stroke="#B7B7B7"><path d="M86.30 84.90L104.50 93.62L122.70 126.93L140.90 142.28L159.10 158.14L177.30 193.89L195.50 196.64L213.70 198.04L231.90 194.67L250.10 189.48L268.30 188.33L286.50 186.39L304.70 187.88L322.90 186.05L341.10 182.93L359.30 178.50L377.50 183.61L395.70 186.59L413.90 89.66L432.10 99.97L450.30 100.37L468.50 98.62L486.70 137.24L504.90 157.87L523.10 168.19L541.30 198.90L559.50 205.45L577.70 235.83L595.90 258.04L614.10 267.14L632.30 273.77L650.50 274.08L668.70 274.08" fill="none" stroke-width="1.8" stroke-linejoin="round" stroke-linecap="round"/>
<circle cx="86.30" cy="84.90" r="4.15" stroke="none"/><circle cx="104.50" cy="93.62" r="4.15" stroke="none"/><circle cx="122.70" cy="126.93" r="4.15" stroke="none"/><circle cx="140.90" cy="142.28" r="4.15" stroke="none"/><circle cx="159.10" cy="158.14" r="4.15" stroke="none"/><circle cx="177.30" cy="193.89" r="4.15" stroke="none"/><circle cx="195.50" cy="196.64" r="4.15" stroke="none"/><circle cx="213.70" cy="198.04" r="4.15" stroke="none"/><circle cx="231.90" cy="194.67" r="4.15" stroke="none"/><circle cx="250.10" cy="189.48" r="4.15" stroke="none"/><circle cx="268.30" cy="188.33" r="4.15" stroke="none"/><circle cx="286.50" cy="186.39" r="4.15" stroke="none"/><circle cx="304.70" cy="187.88" r="4.15" stroke="none"/><circle cx="322.90" cy="186.05" r="4.15" stroke="none"/><circle cx="341.10" cy="182.93" r="4.15" stroke="none"/><circle cx="359.30" cy="178.50" r="4.15" stroke="none"/><circle cx="377.50" cy="183.61" r="4.15" stroke="none"/><circle cx="395.70" cy="186.59" r="4.15" stroke="none"/><circle cx="413.90" cy="89.66" r="4.15" stroke="none"/><circle cx="432.10" cy="99.97" r="4.15" stroke="none"/><circle cx="450.30" cy="100.37" r="4.15" stroke="none"/><circle cx="468.50" cy="98.62" r="4.15" stroke="none"/><circle cx="486.70" cy="137.24" r="4.15" stroke="none"/><circle cx="504.90" cy="157.87" r="4.15" stroke="none"/><circle cx="523.10" cy="168.19" r="4.15" stroke="none"/><circle cx="541.30" cy="198.90" r="4.15" stroke="none"/><circle cx="559.50" cy="205.45" r="4.15" stroke="none"/><circle cx="577.70" cy="235.83" r="4.15" stroke="none"/><circle cx="595.90" cy="258.04" r="4.15" stroke="none"/><circle cx="614.10" cy="267.14" r="4.15" stroke="none"/><circle cx="632.30" cy="273.77" r="4.15" stroke="none"/><circle cx="650.50" cy="274.08" r="4.15" stroke="none"/><circle cx="668.70" cy="274.08" r="4.15" stroke="none"/>
</g>
<g fill="#FFCD33" stroke="#FFCD33"><path d="M86.30 84.90L104.50 93.09L122.70 125.32L140.90 139.54L159.10 154.10L177.30 187.22L195.50 189.77L213.70 190.10L231.90 185.67L250.10 179.41L268.30 177.49L286.50 174.77L304.70 171.46L322.90 168.38L341.10 165.31L359.30 162.24L377.50 167.79L395.70 170.17L413.90 90.31L432.10 102.84L450.30 104.29L468.50 105.52L486.70 136.04L504.90 157.47L523.10 168.19L541.30 191.49L559.50 197.07L577.70 223.24L595.90 242.71L614.10 250.68L632.30 256.06L650.50 256.23L668.70 256.23" fill="none" stroke-width="1.8" stroke-linejoin="round" stroke-linecap="round"/>
<circle cx="86.30" cy="84.90" r="4.15" stroke="none"/><circle cx="104.50" cy="93.09" r="4.15" stroke="none"/><circle cx="122.70" cy="125.32" r="4.15" stroke="none"/><circle cx="140.90" cy="139.54" r="4.15" stroke="none"/><circle cx="159.10" cy="154.10" r="4.15" stroke="none"/><circle cx="177.30" cy="187.22" r="4.15" stroke="none"/><circle cx="195.50" cy="189.77" r="4.15" stroke="none"/><circle cx="213.70" cy="190.10" r="4.15" stroke="none"/><circle cx="231.90" cy="185.67" r="4.15" stroke="none"/><circle cx="250.10" cy="179.41" r="4.15" stroke="none"/><circle cx="268.30" cy="177.49" r="4.15" stroke="none"/><circle cx="286.50" cy="174.77" r="4.15" stroke="none"/><circle cx="304.70" cy="171.46" r="4.15" stroke="none"/><circle cx="322.90" cy="168.38" r="4.15" stroke="none"/><circle cx="341.10" cy="165.31" r="4.15" stroke="none"/><circle cx="359.30" cy="162.24" r="4.15" stroke="none"/><circle cx="377.50" cy="167.79" r="4.15" stroke="none"/><circle cx="395.70" cy="170.17" r="4.15" stroke="none"/><circle cx="413.90" cy="90.31" r="4.15" stroke="none"/><circle cx="432.10" cy="102.84" r="4.15" stroke="none"/><circle cx="450.30" cy="104.29" r="4.15" stroke="none"/><circle cx="468.50" cy="105.52" r="4.15" stroke="none"/><circle cx="486.70" cy="136.04" r="4.15" stroke="none"/><circle cx="504.90" cy="157.47" r="4.15" stroke="none"/><circle cx="523.10" cy="168.19" r="4.15" stroke="none"/><circle cx="541.30" cy="191.49" r="4.15" stroke="none"/><circle cx="559.50" cy="197.07" r="4.15" stroke="none"/><circle cx="577.70" cy="223.24" r="4.15" stroke="none"/><circle cx="595.90" cy="242.71" r="4.15" stroke="none"/><circle cx="614.10" cy="250.68" r="4.15" stroke="none"/><circle cx="632.30" cy="256.06" r="4.15" stroke="none"/><circle cx="650.50" cy="256.23" r="4.15" stroke="none"/><circle cx="668.70" cy="256.23" r="4.15" stroke="none"/>
</g>
<g fill="#698ED0" stroke="#698ED0"><path d="M86.30 84.90L104.50 92.90L122.70 124.72L140.90 138.54L159.10 152.65L177.30 184.84L195.50 187.15L213.70 186.20L231.90 180.48L250.10 172.95L268.30 171.56L286.50 169.38L304.70 168.74L322.90 166.56L341.10 163.73L359.30 160.25L377.50 165.54L395.70 168.19L413.90 90.42L432.10 104.22L450.30 105.78L468.50 107.11L486.70 135.09L504.90 155.83L523.10 166.20L541.30 190.12L559.50 197.02L577.70 228.65L595.90 251.32L614.10 260.20L632.30 265.78L650.50 265.75L668.70 265.75" fill="none" stroke-width="1.8" stroke-linejoin="round" stroke-linecap="round"/>
<circle cx="86.30" cy="84.90" r="4.15" stroke="none"/><circle cx="104.50" cy="92.90" r="4.15" stroke="none"/><circle cx="122.70" cy="124.72" r="4.15" stroke="none"/><circle cx="140.90" cy="138.54" r="4.15" stroke="none"/><circle cx="159.10" cy="152.65" r="4.15" stroke="none"/><circle cx="177.30" cy="184.84" r="4.15" stroke="none"/><circle cx="195.50" cy="187.15" r="4.15" stroke="none"/><circle cx="213.70" cy="186.20" r="4.15" stroke="none"/><circle cx="231.90" cy="180.48" r="4.15" stroke="none"/><circle cx="250.10" cy="172.95" r="4.15" stroke="none"/><circle cx="268.30" cy="171.56" r="4.15" stroke="none"/><circle cx="286.50" cy="169.38" r="4.15" stroke="none"/><circle cx="304.70" cy="168.74" r="4.15" stroke="none"/><circle cx="322.90" cy="166.56" r="4.15" stroke="none"/><circle cx="341.10" cy="163.73" r="4.15" stroke="none"/><circle cx="359.30" cy="160.25" r="4.15" stroke="none"/><circle cx="377.50" cy="165.54" r="4.15" stroke="none"/><circle cx="395.70" cy="168.19" r="4.15" stroke="none"/><circle cx="413.90" cy="90.42" r="4.15" stroke="none"/><circle cx="432.10" cy="104.22" r="4.15" stroke="none"/><circle cx="450.30" cy="105.78" r="4.15" stroke="none"/><circle cx="468.50" cy="107.11" r="4.15" stroke="none"/><circle cx="486.70" cy="135.09" r="4.15" stroke="none"/><circle cx="504.90" cy="155.83" r="4.15" stroke="none"/><circle cx="523.10" cy="166.20" r="4.15" stroke="none"/><circle cx="541.30" cy="190.12" r="4.15" stroke="none"/><circle cx="559.50" cy="197.02" r="4.15" stroke="none"/><circle cx="577.70" cy="228.65" r="4.15" stroke="none"/><circle cx="595.90" cy="251.32" r="4.15" stroke="none"/><circle cx="614.10" cy="260.20" r="4.15" stroke="none"/><circle cx="632.30" cy="265.78" r="4.15" stroke="none"/><circle cx="650.50" cy="265.75" r="4.15" stroke="none"/><circle cx="668.70" cy="265.75" r="4.15" stroke="none"/>
</g>
<g fill="#8CC168" stroke="#8CC168"><path d="M86.30 84.90L104.50 93.02L122.70 125.12L140.90 139.21L159.10 153.62L177.30 186.43L195.50 188.83L213.70 188.37L231.90 183.16L250.10 176.12L268.30 174.53L286.50 172.15L304.70 172.01L322.90 170.33L341.10 168.00L359.30 165.01L377.50 170.30L395.70 172.95L413.90 90.48L432.10 104.91L450.30 106.52L468.50 107.90L486.70 136.09L504.90 158.01L523.10 168.98L541.30 191.47L559.50 198.05L577.70 228.29L595.90 250.04L614.10 258.61L632.30 264.14L650.50 264.16L668.70 264.16" fill="none" stroke-width="1.8" stroke-linejoin="round" stroke-linecap="round"/>
<circle cx="86.30" cy="84.90" r="4.15" stroke="none"/><circle cx="104.50" cy="93.02" r="4.15" stroke="none"/><circle cx="122.70" cy="125.12" r="4.15" stroke="none"/><circle cx="140.90" cy="139.21" r="4.15" stroke="none"/><circle cx="159.10" cy="153.62" r="4.15" stroke="none"/><circle cx="177.30" cy="186.43" r="4.15" stroke="none"/><circle cx="195.50" cy="188.83" r="4.15" stroke="none"/><circle cx="213.70" cy="188.37" r="4.15" stroke="none"/><circle cx="231.90" cy="183.16" r="4.15" stroke="none"/><circle cx="250.10" cy="176.12" r="4.15" stroke="none"/><circle cx="268.30" cy="174.53" r="4.15" stroke="none"/><circle cx="286.50" cy="172.15" r="4.15" stroke="none"/><circle cx="304.70" cy="172.01" r="4.15" stroke="none"/><circle cx="322.90" cy="170.33" r="4.15" stroke="none"/><circle cx="341.10" cy="168.00" r="4.15" stroke="none"/><circle cx="359.30" cy="165.01" r="4.15" stroke="none"/><circle cx="377.50" cy="170.30" r="4.15" stroke="none"/><circle cx="395.70" cy="172.95" r="4.15" stroke="none"/><circle cx="413.90" cy="90.48" r="4.15" stroke="none"/><circle cx="432.10" cy="104.91" r="4.15" stroke="none"/><circle cx="450.30" cy="106.52" r="4.15" stroke="none"/><circle cx="468.50" cy="107.90" r="4.15" stroke="none"/><circle cx="486.70" cy="136.09" r="4.15" stroke="none"/><circle cx="504.90" cy="158.01" r="4.15" stroke="none"/><circle cx="523.10" cy="168.98" r="4.15" stroke="none"/><circle cx="541.30" cy="191.47" r="4.15" stroke="none"/><circle cx="559.50" cy="198.05" r="4.15" stroke="none"/><circle cx="577.70" cy="228.29" r="4.15" stroke="none"/><circle cx="595.90" cy="250.04" r="4.15" stroke="none"/><circle cx="614.10" cy="258.61" r="4.15" stroke="none"/><circle cx="632.30" cy="264.14" r="4.15" stroke="none"/><circle cx="650.50" cy="264.16" r="4.15" stroke="none"/><circle cx="668.70" cy="264.16" r="4.15" stroke="none"/>
</g>
<g fill="#327DC2" stroke="#327DC2"><path d="M86.30 84.90L104.50 92.83L122.70 124.51L140.90 138.20L159.10 152.16L177.30 184.05L195.50 186.29L213.70 184.96L231.90 178.87L250.10 170.96L268.30 169.57L286.50 167.39L304.70 167.76L322.90 166.15L341.10 163.73L359.30 160.49L377.50 165.80L395.70 168.58L413.90 90.53L432.10 105.60L450.30 107.27L468.50 108.70L486.70 134.93L504.90 155.78L523.10 166.20L541.30 188.86L559.50 195.14L577.70 223.86L595.90 244.35L614.10 252.27L632.30 257.01L650.50 256.91L668.70 256.91" fill="none" stroke-width="1.8" stroke-linejoin="round" stroke-linecap="round"/>
<circle cx="86.30" cy="84.90" r="4.15" stroke="none"/><circle cx="104.50" cy="92.83" r="4.15" stroke="none"/><circle cx="122.70" cy="124.51" r="4.15" stroke="none"/><circle cx="140.90" cy="138.20" r="4.15" stroke="none"/><circle cx="159.10" cy="152.16" r="4.15" stroke="none"/><circle cx="177.30" cy="184.05" r="4.15" stroke="none"/><circle cx="195.50" cy="186.29" r="4.15" stroke="none"/><circle cx="213.70" cy="184.96" r="4.15" stroke="none"/><circle cx="231.90" cy="178.87" r="4.15" stroke="none"/><circle cx="250.10" cy="170.96" r="4.15" stroke="none"/><circle cx="268.30" cy="169.57" r="4.15" stroke="none"/><circle cx="286.50" cy="167.39" r="4.15" stroke="none"/><circle cx="304.70" cy="167.76" r="4.15" stroke="none"/><circle cx="322.90" cy="166.15" r="4.15" stroke="none"/><circle cx="341.10" cy="163.73" r="4.15" stroke="none"/><circle cx="359.30" cy="160.49" r="4.15" stroke="none"/><circle cx="377.50" cy="165.80" r="4.15" stroke="none"/><circle cx="395.70" cy="168.58" r="4.15" stroke="none"/><circle cx="413.90" cy="90.53" r="4.15" stroke="none"/><circle cx="432.10" cy="105.60" r="4.15" stroke="none"/><circle cx="450.30" cy="107.27" r="4.15" stroke="none"/><circle cx="468.50" cy="108.70" r="4.15" stroke="none"/><circle cx="486.70" cy="134.93" r="4.15" stroke="none"/><circle cx="504.90" cy="155.78" r="4.15" stroke="none"/><circle cx="523.10" cy="166.20" r="4.15" stroke="none"/><circle cx="541.30" cy="188.86" r="4.15" stroke="none"/><circle cx="559.50" cy="195.14" r="4.15" stroke="none"/><circle cx="577.70" cy="223.86" r="4.15" stroke="none"/><circle cx="595.90" cy="244.35" r="4.15" stroke="none"/><circle cx="614.10" cy="252.27" r="4.15" stroke="none"/><circle cx="632.30" cy="257.01" r="4.15" stroke="none"/><circle cx="650.50" cy="256.91" r="4.15" stroke="none"/><circle cx="668.70" cy="256.91" r="4.15" stroke="none"/>
</g>
<g fill="#D26012" stroke="#D26012"><path d="M86.30 84.90L104.50 92.38L122.70 123.00L140.90 135.77L159.10 148.68L177.30 178.42L195.50 180.80L213.70 180.24L231.90 174.93L250.10 167.79L268.30 166.10L286.50 163.63L304.70 164.47L322.90 162.45L341.10 159.28L359.30 154.98L377.50 160.11L395.70 162.99L413.90 90.42L432.10 104.22L450.30 105.78L468.50 107.11L486.70 133.31L504.90 153.92L523.10 164.22L541.30 182.92L559.50 188.81L577.70 215.56L595.90 234.41L614.10 241.40L632.30 244.79L650.50 244.41L668.70 244.41" fill="none" stroke-width="1.8" stroke-linejoin="round" stroke-linecap="round"/>
<circle cx="86.30" cy="84.90" r="4.15" stroke="none"/><circle cx="104.50" cy="92.38" r="4.15" stroke="none"/><circle cx="122.70" cy="123.00" r="4.15" stroke="none"/><circle cx="140.90" cy="135.77" r="4.15" stroke="none"/><circle cx="159.10" cy="148.68" r="4.15" stroke="none"/><circle cx="177.30" cy="178.42" r="4.15" stroke="none"/><circle cx="195.50" cy="180.80" r="4.15" stroke="none"/><circle cx="213.70" cy="180.24" r="4.15" stroke="none"/><circle cx="231.90" cy="174.93" r="4.15" stroke="none"/><circle cx="250.10" cy="167.79" r="4.15" stroke="none"/><circle cx="268.30" cy="166.10" r="4.15" stroke="none"/><circle cx="286.50" cy="163.63" r="4.15" stroke="none"/><circle cx="304.70" cy="164.47" r="4.15" stroke="none"/><circle cx="322.90" cy="162.45" r="4.15" stroke="none"/><circle cx="341.10" cy="159.28" r="4.15" stroke="none"/><circle cx="359.30" cy="154.98" r="4.15" stroke="none"/><circle cx="377.50" cy="160.11" r="4.15" stroke="none"/><circle cx="395.70" cy="162.99" r="4.15" stroke="none"/><circle cx="413.90" cy="90.42" r="4.15" stroke="none"/><circle cx="432.10" cy="104.22" r="4.15" stroke="none"/><circle cx="450.30" cy="105.78" r="4.15" stroke="none"/><circle cx="468.50" cy="107.11" r="4.15" stroke="none"/><circle cx="486.70" cy="133.31" r="4.15" stroke="none"/><circle cx="504.90" cy="153.92" r="4.15" stroke="none"/><circle cx="523.10" cy="164.22" r="4.15" stroke="none"/><circle cx="541.30" cy="182.92" r="4.15" stroke="none"/><circle cx="559.50" cy="188.81" r="4.15" stroke="none"/><circle cx="577.70" cy="215.56" r="4.15" stroke="none"/><circle cx="595.90" cy="234.41" r="4.15" stroke="none"/><circle cx="614.10" cy="241.40" r="4.15" stroke="none"/><circle cx="632.30" cy="244.79" r="4.15" stroke="none"/><circle cx="650.50" cy="244.41" r="4.15" stroke="none"/><circle cx="668.70" cy="244.41" r="4.15" stroke="none"/>
</g>
<g fill="#848484" stroke="#848484"><path d="M86.30 84.90L104.50 92.67L122.70 123.99L140.90 137.35L159.10 150.94L177.30 182.07L195.50 184.58L213.70 184.68L231.90 180.02L250.10 173.54L268.30 171.83L286.50 169.34L304.70 173.07L322.90 173.03L341.10 171.54L359.30 168.58L377.50 173.94L395.70 177.31L413.90 90.59L432.10 106.29L450.30 108.01L468.50 109.49L486.70 135.53L504.90 158.62L523.10 170.17L541.30 186.65L559.50 192.65L577.70 220.05L595.90 239.58L614.10 247.11L632.30 251.59L650.50 251.47L668.70 251.47" fill="none" stroke-width="1.8" stroke-linejoin="round" stroke-linecap="round"/>
<circle cx="86.30" cy="84.90" r="4.15" stroke="none"/><circle cx="104.50" cy="92.67" r="4.15" stroke="none"/><circle cx="122.70" cy="123.99" r="4.15" stroke="none"/><circle cx="140.90" cy="137.35" r="4.15" stroke="none"/><circle cx="159.10" cy="150.94" r="4.15" stroke="none"/><circle cx="177.30" cy="182.07" r="4.15" stroke="none"/><circle cx="195.50" cy="184.58" r="4.15" stroke="none"/><circle cx="213.70" cy="184.68" r="4.15" stroke="none"/><circle cx="231.90" cy="180.02" r="4.15" stroke="none"/><circle cx="250.10" cy="173.54" r="4.15" stroke="none"/><circle cx="268.30" cy="171.83" r="4.15" stroke="none"/><circle cx="286.50" cy="169.34" r="4.15" stroke="none"/><circle cx="304.70" cy="173.07" r="4.15" stroke="none"/><circle cx="322.90" cy="173.03" r="4.15" stroke="none"/><circle cx="341.10" cy="171.54" r="4.15" stroke="none"/><circle cx="359.30" cy="168.58" r="4.15" stroke="none"/><circle cx="377.50" cy="173.94" r="4.15" stroke="none"/><circle cx="395.70" cy="177.31" r="4.15" stroke="none"/><circle cx="413.90" cy="90.59" r="4.15" stroke="none"/><circle cx="432.10" cy="106.29" r="4.15" stroke="none"/><circle cx="450.30" cy="108.01" r="4.15" stroke="none"/><circle cx="468.50" cy="109.49" r="4.15" stroke="none"/><circle cx="486.70" cy="135.53" r="4.15" stroke="none"/><circle cx="504.90" cy="158.62" r="4.15" stroke="none"/><circle cx="523.10" cy="170.17" r="4.15" stroke="none"/><circle cx="541.30" cy="186.65" r="4.15" stroke="none"/><circle cx="559.50" cy="192.65" r="4.15" stroke="none"/><circle cx="577.70" cy="220.05" r="4.15" stroke="none"/><circle cx="595.90" cy="239.58" r="4.15" stroke="none"/><circle cx="614.10" cy="247.11" r="4.15" stroke="none"/><circle cx="632.30" cy="251.59" r="4.15" stroke="none"/><circle cx="650.50" cy="251.47" r="4.15" stroke="none"/><circle cx="668.70" cy="251.47" r="4.15" stroke="none"/>
</g>
<g fill="#CC9A00" stroke="#CC9A00"><path d="M86.30 84.90L104.50 93.37L122.70 126.20L140.90 141.02L159.10 156.27L177.30 190.79L195.50 193.96L213.70 197.53L231.90 196.34L250.10 193.33L268.30 192.58L286.50 191.03L304.70 195.67L322.90 196.11L341.10 194.92L359.30 192.10L377.50 197.38L395.70 200.79L413.90 90.83L432.10 109.26L450.30 111.22L468.50 112.90L486.70 138.20L504.90 162.21L523.10 174.21L541.30 195.38L559.50 201.38L577.70 228.81L595.90 248.36L614.10 255.91L632.30 260.42L650.50 260.32L668.70 260.32" fill="none" stroke-width="1.8" stroke-linejoin="round" stroke-linecap="round"/>
<circle cx="86.30" cy="84.90" r="4.15" stroke="none"/><circle cx="104.50" cy="93.37" r="4.15" stroke="none"/><circle cx="122.70" cy="126.20" r="4.15" stroke="none"/><circle cx="140.90" cy="141.02" r="4.15" stroke="none"/><circle cx="159.10" cy="156.27" r="4.15" stroke="none"/><circle cx="177.30" cy="190.79" r="4.15" stroke="none"/><circle cx="195.50" cy="193.96" r="4.15" stroke="none"/><circle cx="213.70" cy="197.53" r="4.15" stroke="none"/><circle cx="231.90" cy="196.34" r="4.15" stroke="none"/><circle cx="250.10" cy="193.33" r="4.15" stroke="none"/><circle cx="268.30" cy="192.58" r="4.15" stroke="none"/><circle cx="286.50" cy="191.03" r="4.15" stroke="none"/><circle cx="304.70" cy="195.67" r="4.15" stroke="none"/><circle cx="322.90" cy="196.11" r="4.15" stroke="none"/><circle cx="341.10" cy="194.92" r="4.15" stroke="none"/><circle cx="359.30" cy="192.10" r="4.15" stroke="none"/><circle cx="377.50" cy="197.38" r="4.15" stroke="none"/><circle cx="395.70" cy="200.79" r="4.15" stroke="none"/><circle cx="413.90" cy="90.83" r="4.15" stroke="none"/><circle cx="432.10" cy="109.26" r="4.15" stroke="none"/><circle cx="450.30" cy="111.22" r="4.15" stroke="none"/><circle cx="468.50" cy="112.90" r="4.15" stroke="none"/><circle cx="486.70" cy="138.20" r="4.15" stroke="none"/><circle cx="504.90" cy="162.21" r="4.15" stroke="none"/><circle cx="523.10" cy="174.21" r="4.15" stroke="none"/><circle cx="541.30" cy="195.38" r="4.15" stroke="none"/><circle cx="559.50" cy="201.38" r="4.15" stroke="none"/><circle cx="577.70" cy="228.81" r="4.15" stroke="none"/><circle cx="595.90" cy="248.36" r="4.15" stroke="none"/><circle cx="614.10" cy="255.91" r="4.15" stroke="none"/><circle cx="632.30" cy="260.42" r="4.15" stroke="none"/><circle cx="650.50" cy="260.32" r="4.15" stroke="none"/><circle cx="668.70" cy="260.32" r="4.15" stroke="none"/>
</g>
<g fill="#335AA1" stroke="#335AA1"><path d="M86.30 84.90L104.50 91.55L122.70 119.97L140.90 131.07L159.10 142.13L177.30 167.99L195.50 167.31L213.70 167.06L231.90 160.47L250.10 152.32L268.30 150.28L286.50 147.56L304.70 147.78L322.90 145.32L341.10 141.79L359.30 137.21L377.50 142.42L395.70 145.30L413.90 90.65L432.10 107.09L450.30 108.87L468.50 110.40L486.70 130.86L504.90 152.62L523.10 163.51L541.30 172.01L559.50 177.29L577.70 201.68L595.90 219.35L614.10 225.89L632.30 228.48L650.50 227.99L668.70 227.99" fill="none" stroke-width="1.8" stroke-linejoin="round" stroke-linecap="round"/>
<circle cx="86.30" cy="84.90" r="4.15" stroke="none"/><circle cx="104.50" cy="91.55" r="4.15" stroke="none"/><circle cx="122.70" cy="119.97" r="4.15" stroke="none"/><circle cx="140.90" cy="131.07" r="4.15" stroke="none"/><circle cx="159.10" cy="142.13" r="4.15" stroke="none"/><circle cx="177.30" cy="167.99" r="4.15" stroke="none"/><circle cx="195.50" cy="167.31" r="4.15" stroke="none"/><circle cx="213.70" cy="167.06" r="4.15" stroke="none"/><circle cx="231.90" cy="160.47" r="4.15" stroke="none"/><circle cx="250.10" cy="152.32" r="4.15" stroke="none"/><circle cx="268.30" cy="150.28" r="4.15" stroke="none"/><circle cx="286.50" cy="147.56" r="4.15" stroke="none"/><circle cx="304.70" cy="147.78" r="4.15" stroke="none"/><circle cx="322.90" cy="145.32" r="4.15" stroke="none"/><circle cx="341.10" cy="141.79" r="4.15" stroke="none"/><circle cx="359.30" cy="137.21" r="4.15" stroke="none"/><circle cx="377.50" cy="142.42" r="4.15" stroke="none"/><circle cx="395.70" cy="145.30" r="4.15" stroke="none"/><circle cx="413.90" cy="90.65" r="4.15" stroke="none"/><circle cx="432.10" cy="107.09" r="4.15" stroke="none"/><circle cx="450.30" cy="108.87" r="4.15" stroke="none"/><circle cx="468.50" cy="110.40" r="4.15" stroke="none"/><circle cx="486.70" cy="130.86" r="4.15" stroke="none"/><circle cx="504.90" cy="152.62" r="4.15" stroke="none"/><circle cx="523.10" cy="163.51" r="4.15" stroke="none"/><circle cx="541.30" cy="172.01" r="4.15" stroke="none"/><circle cx="559.50" cy="177.29" r="4.15" stroke="none"/><circle cx="577.70" cy="201.68" r="4.15" stroke="none"/><circle cx="595.90" cy="219.35" r="4.15" stroke="none"/><circle cx="614.10" cy="225.89" r="4.15" stroke="none"/><circle cx="632.30" cy="228.48" r="4.15" stroke="none"/><circle cx="650.50" cy="227.99" r="4.15" stroke="none"/><circle cx="668.70" cy="227.99" r="4.15" stroke="none"/>
</g>
<g fill="#5A8A39" stroke="#5A8A39"><path d="M86.30 84.90L104.50 89.66L122.70 111.99L140.90 119.54L159.10 126.78L177.30 144.39L195.50 143.59L213.70 142.67L231.90 135.40L250.10 126.58L268.30 124.58L286.50 121.90L304.70 122.01L322.90 120.11L341.10 117.39L359.30 113.85L377.50 118.18L395.70 120.00L413.90 90.22L432.10 101.70L450.30 103.06L468.50 104.21L486.70 120.83L504.90 138.52L523.10 147.36L541.30 147.00L559.50 150.44L577.70 166.95L595.90 179.51L614.10 183.53L632.30 182.09L650.50 180.88L668.70 180.88" fill="none" stroke-width="1.8" stroke-linejoin="round" stroke-linecap="round"/>
<circle cx="86.30" cy="84.90" r="4.15" stroke="none"/><circle cx="104.50" cy="89.66" r="4.15" stroke="none"/><circle cx="122.70" cy="111.99" r="4.15" stroke="none"/><circle cx="140.90" cy="119.54" r="4.15" stroke="none"/><circle cx="159.10" cy="126.78" r="4.15" stroke="none"/><circle cx="177.30" cy="144.39" r="4.15" stroke="none"/><circle cx="195.50" cy="143.59" r="4.15" stroke="none"/><circle cx="213.70" cy="142.67" r="4.15" stroke="none"/><circle cx="231.90" cy="135.40" r="4.15" stroke="none"/><circle cx="250.10" cy="126.58" r="4.15" stroke="none"/><circle cx="268.30" cy="124.58" r="4.15" stroke="none"/><circle cx="286.50" cy="121.90" r="4.15" stroke="none"/><circle cx="304.70" cy="122.01" r="4.15" stroke="none"/><circle cx="322.90" cy="120.11" r="4.15" stroke="none"/><circle cx="341.10" cy="117.39" r="4.15" stroke="none"/><circle cx="359.30" cy="113.85" r="4.15" stroke="none"/><circle cx="377.50" cy="118.18" r="4.15" stroke="none"/><circle cx="395.70" cy="120.00" r="4.15" stroke="none"/><circle cx="413.90" cy="90.22" r="4.15" stroke="none"/><circle cx="432.10" cy="101.70" r="4.15" stroke="none"/><circle cx="450.30" cy="103.06" r="4.15" stroke="none"/><circle cx="468.50" cy="104.21" r="4.15" stroke="none"/><circle cx="486.70" cy="120.83" r="4.15" stroke="none"/><circle cx="504.90" cy="138.52" r="4.15" stroke="none"/><circle cx="523.10" cy="147.36" r="4.15" stroke="none"/><circle cx="541.30" cy="147.00" r="4.15" stroke="none"/><circle cx="559.50" cy="150.44" r="4.15" stroke="none"/><circle cx="577.70" cy="166.95" r="4.15" stroke="none"/><circle cx="595.90" cy="179.51" r="4.15" stroke="none"/><circle cx="614.10" cy="183.53" r="4.15" stroke="none"/><circle cx="632.30" cy="182.09" r="4.15" stroke="none"/><circle cx="650.50" cy="180.88" r="4.15" stroke="none"/><circle cx="668.70" cy="180.88" r="4.15" stroke="none"/>
</g>
<path d="M28.0 5.6h29.8" stroke="#5B9BD5" stroke-width="1.6"/><circle cx="42.9" cy="5.6" r="4.3" fill="#5B9BD5"/>
<text x="60.4" y="9.2" font-size="11.8">t=1</text>
<path d="M113.7 5.6h29.8" stroke="#ED7D31" stroke-width="1.6"/><circle cx="128.6" cy="5.6" r="4.3" fill="#ED7D31"/>
<text x="146.1" y="9.2" font-size="11.8">t=2</text>
<path d="M199.4 5.6h29.8" stroke="#A5A5A5" stroke-width="1.6"/><circle cx="214.3" cy="5.6" r="4.3" fill="#A5A5A5"/>
<text x="231.8" y="9.2" font-size="11.8">t=3</text>
<path d="M285.1 5.6h29.8" stroke="#FFC000" stroke-width="1.6"/><circle cx="300.0" cy="5.6" r="4.3" fill="#FFC000"/>
<text x="317.5" y="9.2" font-size="11.8">t=4</text>
<path d="M370.8 5.6h29.8" stroke="#4472C4" stroke-width="1.6"/><circle cx="385.7" cy="5.6" r="4.3" fill="#4472C4"/>
<text x="403.2" y="9.2" font-size="11.8">t=5</text>
<path d="M456.5 5.6h29.8" stroke="#70AD47" stroke-width="1.6"/><circle cx="471.4" cy="5.6" r="4.3" fill="#70AD47"/>
<text x="488.9" y="9.2" font-size="11.8">t=6</text>
<path d="M542.2 5.6h29.8" stroke="#255E91" stroke-width="1.6"/><circle cx="557.1" cy="5.6" r="4.3" fill="#255E91"/>
<text x="574.6" y="9.2" font-size="11.8">t=7</text>
<path d="M627.9 5.6h29.8" stroke="#9E480E" stroke-width="1.6"/><circle cx="642.8" cy="5.6" r="4.3" fill="#9E480E"/>
<text x="660.3" y="9.2" font-size="11.8">t=8</text>
<path d="M28.0 23.3h29.8" stroke="#636363" stroke-width="1.6"/><circle cx="42.9" cy="23.3" r="4.3" fill="#636363"/>
<text x="60.4" y="26.9" font-size="11.8">t=9</text>
<path d="M113.7 23.3h29.8" stroke="#997300" stroke-width="1.6"/><circle cx="128.6" cy="23.3" r="4.3" fill="#997300"/>
<text x="146.1" y="26.9" font-size="11.8">t=10</text>
<path d="M199.4 23.3h29.8" stroke="#264478" stroke-width="1.6"/><circle cx="214.3" cy="23.3" r="4.3" fill="#264478"/>
<text x="231.8" y="26.9" font-size="11.8">t=11</text>
<path d="M285.1 23.3h29.8" stroke="#43682B" stroke-width="1.6"/><circle cx="300.0" cy="23.3" r="4.3" fill="#43682B"/>
<text x="317.5" y="26.9" font-size="11.8">t=12</text>
<path d="M370.8 23.3h29.8" stroke="#7CAFDD" stroke-width="1.6"/><circle cx="385.7" cy="23.3" r="4.3" fill="#7CAFDD"/>
<text x="403.2" y="26.9" font-size="11.8">t=13</text>
<path d="M456.5 23.3h29.8" stroke="#F1975A" stroke-width="1.6"/><circle cx="471.4" cy="23.3" r="4.3" fill="#F1975A"/>
<text x="488.9" y="26.9" font-size="11.8">t=14</text>
<path d="M542.2 23.3h29.8" stroke="#B7B7B7" stroke-width="1.6"/><circle cx="557.1" cy="23.3" r="4.3" fill="#B7B7B7"/>
<text x="574.6" y="26.9" font-size="11.8">t=15</text>
<path d="M627.9 23.3h29.8" stroke="#FFCD33" stroke-width="1.6"/><circle cx="642.8" cy="23.3" r="4.3" fill="#FFCD33"/>
<text x="660.3" y="26.9" font-size="11.8">t=16</text>
<path d="M28.0 41.0h29.8" stroke="#698ED0" stroke-width="1.6"/><circle cx="42.9" cy="41.0" r="4.3" fill="#698ED0"/>
<text x="60.4" y="44.6" font-size="11.8">t=17</text>
<path d="M113.7 41.0h29.8" stroke="#8CC168" stroke-width="1.6"/><circle cx="128.6" cy="41.0" r="4.3" fill="#8CC168"/>
<text x="146.1" y="44.6" font-size="11.8">t=18</text>
<path d="M199.4 41.0h29.8" stroke="#327DC2" stroke-width="1.6"/><circle cx="214.3" cy="41.0" r="4.3" fill="#327DC2"/>
<text x="231.8" y="44.6" font-size="11.8">t=19</text>
<path d="M285.1 41.0h29.8" stroke="#D26012" stroke-width="1.6"/><circle cx="300.0" cy="41.0" r="4.3" fill="#D26012"/>
<text x="317.5" y="44.6" font-size="11.8">t=20</text>
<path d="M370.8 41.0h29.8" stroke="#848484" stroke-width="1.6"/><circle cx="385.7" cy="41.0" r="4.3" fill="#848484"/>
<text x="403.2" y="44.6" font-size="11.8">t=21</text>
<path d="M456.5 41.0h29.8" stroke="#CC9A00" stroke-width="1.6"/><circle cx="471.4" cy="41.0" r="4.3" fill="#CC9A00"/>
<text x="488.9" y="44.6" font-size="11.8">t=22</text>
<path d="M542.2 41.0h29.8" stroke="#335AA1" stroke-width="1.6"/><circle cx="557.1" cy="41.0" r="4.3" fill="#335AA1"/>
<text x="574.6" y="44.6" font-size="11.8">t=23</text>
<path d="M627.9 41.0h29.8" stroke="#5A8A39" stroke-width="1.6"/><circle cx="642.8" cy="41.0" r="4.3" fill="#5A8A39"/>
<text x="660.3" y="44.6" font-size="11.8">t=24</text>
</svg></body></html>
